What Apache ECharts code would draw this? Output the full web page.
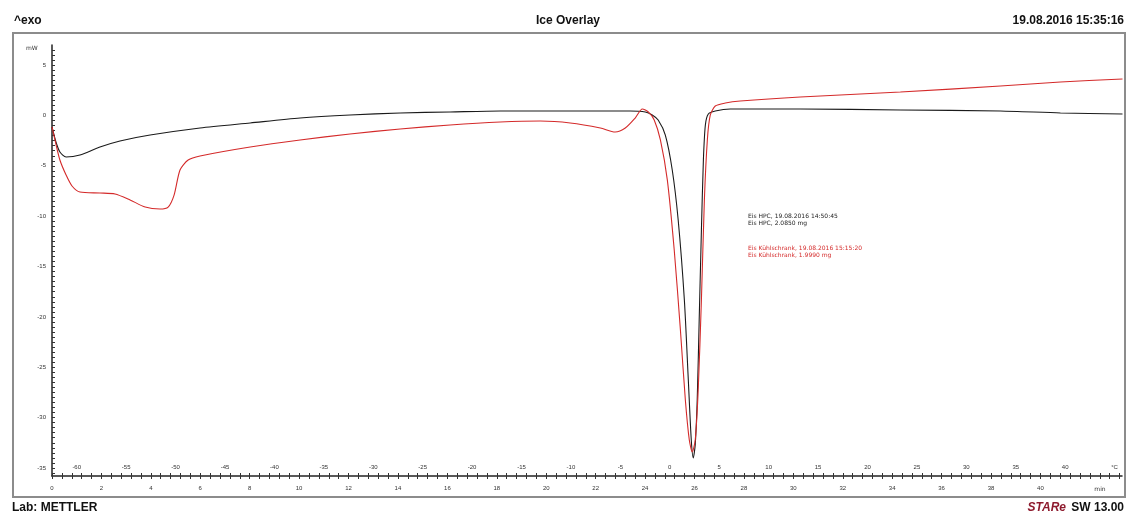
<!DOCTYPE html>
<html>
<head>
<meta charset="utf-8">
<script src="https://cdn.jsdelivr.net/npm/echarts@6/dist/echarts.min.js"></script>
<style>html,body{margin:0;padding:0;background:#fff}#c{width:1129px;height:515px}</style>
</head>
<body>
<div id="c"></div>
<script>
// time in min
const timeBlack = [0,0.16,0.32,0.57,1.13,1.94,2.75,3.97,5.99,8.02,10.04,12.06,14.09,16.11,18.14,20.16,22.19,23.40,24.01,24.29,24.53,24.82,25.10,25.34,25.59,25.75,25.87,25.95,26.03,26.11,26.19,26.28,26.36,26.44,26.56,26.84,27.45,30.28,34.33,38.38,40.81,43.32];
// heat flow in mW
const hfBlack = [-1.14,-2.63,-3.62,-4.12,-3.92,-3.13,-2.53,-1.94,-1.24,-0.74,-0.25,0.05,0.25,0.35,0.45,0.45,0.45,0.45,0.35,0.05,-0.45,-1.94,-5.41,-10.38,-18.32,-26.27,-32.23,-34.0,-32.7,-28.25,-20.3,-11.37,-4.42,-0.94,0.15,0.45,0.65,0.65,0.55,0.45,0.25,0.15];
const timeRed = [0,0.12,0.32,0.57,0.81,1.13,1.94,2.55,3.16,3.77,4.37,4.70,4.94,5.18,5.51,5.99,8.02,10.04,12.06,14.09,16.11,18.14,19.76,20.97,22.19,22.79,23.20,23.6,23.89,24.13,24.37,24.62,24.90,25.18,25.43,25.63,25.79,25.91,26.03,26.15,26.28,26.4,26.52,26.64,26.84,27.25,27.85,30.28,34.33,38.38,40.81,43.32];
const hfRed = [-1.14,-2.43,-4.42,-5.91,-7.0,-7.6,-7.7,-7.8,-8.39,-9.09,-9.28,-9.09,-7.9,-5.41,-4.42,-4.02,-3.13,-2.43,-1.84,-1.34,-0.94,-0.65,-0.55,-0.74,-1.24,-1.64,-1.24,-0.25,0.65,0.35,-0.45,-2.43,-6.4,-13.36,-21.3,-28.25,-32.23,-33.4,-32.23,-27.26,-18.3,-8.39,-2.43,0.05,0.94,1.24,1.44,1.84,2.33,2.93,3.33,3.62];

const timeTicks = [0,2,4,6,8,10,12,14,16,18,20,22,24,26,28,30,32,34,36,38,40];
const timeLabels = ['0','2','4','6','8','10','12','14','16','18','20','22','24','26','28','30','32','34','36','38','40'];
const tempTicks = [1,3,5,7,9,11,13,15,17,19,21,23,25,27,29,31,33,35,37,39,41,43];
const tempLabels = ['-60','-55','-50','-45','-40','-35','-30','-25','-20','-15','-10','-5','0','5','10','15','20','25','30','35','40','°C'];
const yTicks = [-35,-30,-25,-20,-15,-10,-5,0,5];
const yLabels = ['-35','-30','-25','-20','-15','-10','-5','0','5'];

const legendBlack = ['Eis HPC, 19.08.2016 14:50:45', 'Eis HPC, 2.0850 mg'];
const legendRed = ['Eis Kühlschrank, 19.08.2016 15:15:20', 'Eis Kühlschrank, 1.9990 mg'];

const zip = (a, b) => a.map((v, i) => [v, b[i]]);
const minorX = []; for (let i = 0; i <= 108; i++) minorX.push(+(i * 0.4).toFixed(2));
const minorY = []; for (let i = 0; i <= 84; i++) minorY.push(+(-35.5 + i * 0.5).toFixed(2));

const chart = echarts.init(document.getElementById('c'));
const bold = 'bold 12px "Liberation Sans", Arial, sans-serif';
chart.setOption({
  animation: false,
  grid: { left: 52, right: 7, top: 45, bottom: 39 },
  xAxis: [
    {
      type: 'value', min: 0, max: 43.3, position: 'bottom',
      axisLine: { onZero: false, lineStyle: { color: '#222', width: 1.5 } },
      axisTick: { show: true, customValues: minorX, length: 3, lineStyle: { color: '#333' } },
      axisLabel: {
        customValues: timeTicks, fontSize: 6, color: '#333', margin: 9,
        formatter: v => timeLabels[timeTicks.indexOf(Math.round(v))] || ''
      },
      splitLine: { show: false }
    },
    {
      type: 'value', min: 0, max: 43.3, position: 'bottom',
      axisLine: { show: false, onZero: false },
      axisTick: { show: true, inside: true, customValues: minorX, length: 3, lineStyle: { color: '#333' } },
      axisLabel: {
        inside: true, customValues: tempTicks, fontSize: 6, color: '#333', margin: 6,
        formatter: v => tempLabels[tempTicks.indexOf(Math.round(v))] || ''
      },
      splitLine: { show: false }
    }
  ],
  yAxis: {
    type: 'value', min: -35.8, max: 7,
    axisLine: { show: true, onZero: false, lineStyle: { color: '#222', width: 1.5 } },
    axisTick: { show: true, inside: true, customValues: minorY, length: 3, lineStyle: { color: '#333' } },
    axisLabel: {
      customValues: yTicks, fontSize: 6, color: '#333', margin: 6,
      formatter: v => yLabels[yTicks.indexOf(Math.round(v))] || ''
    },
    splitLine: { show: false }
  },
  series: [
    { type: 'line', name: 'black', data: zip(timeBlack, hfBlack), showSymbol: false, smooth: 0.25,
      lineStyle: { color: '#1a1a1a', width: 1.1 }, xAxisIndex: 0 },
    { type: 'line', name: 'red', data: zip(timeRed, hfRed), showSymbol: false, smooth: 0.25,
      lineStyle: { color: '#d42a2a', width: 1.1 }, xAxisIndex: 0 }
  ],
  graphic: [
    { type: 'rect', shape: { x: 13, y: 33, width: 1112, height: 464 }, style: { fill: 'none', stroke: '#8c8c8c', lineWidth: 2 }, silent: true },
    { type: 'text', x: 14, y: 15, style: { text: '^exo', font: bold, fill: '#111' } },
    { type: 'text', x: 568, y: 15, style: { text: 'Ice Overlay', font: bold, fill: '#111', align: 'center' } },
    { type: 'text', x: 1124, y: 15, style: { text: '19.08.2016 15:35:16', font: bold, fill: '#111', align: 'right' } },
    { type: 'text', x: 12, y: 502, style: { text: 'Lab: METTLER', font: bold, fill: '#111' } },
    { type: 'text', x: 1124, y: 502, style: { text: 'SW 13.00', font: bold, fill: '#111', align: 'right' } },
    { type: 'text', x: 1066, y: 502, style: { text: 'STARe', font: 'italic bold 12px "Liberation Sans", Arial, sans-serif', fill: '#8e1b2e', align: 'right' } },
    { type: 'text', x: 26, y: 45, style: { text: 'mW', font: '6px "DejaVu Sans", sans-serif', fill: '#333' } },
    { type: 'text', x: 1100, y: 486, style: { text: 'min', font: '6px "DejaVu Sans", sans-serif', fill: '#333', align: 'center' } },
    { type: 'text', x: 748, y: 213, style: { text: legendBlack.join('\n'), font: '6px "DejaVu Sans", sans-serif', fill: '#222', lineHeight: 7 } },
    { type: 'text', x: 748, y: 245, style: { text: legendRed.join('\n'), font: '6px "DejaVu Sans", sans-serif', fill: '#d42a2a', lineHeight: 7 } }
  ]
});
</script>
</body>
</html>
